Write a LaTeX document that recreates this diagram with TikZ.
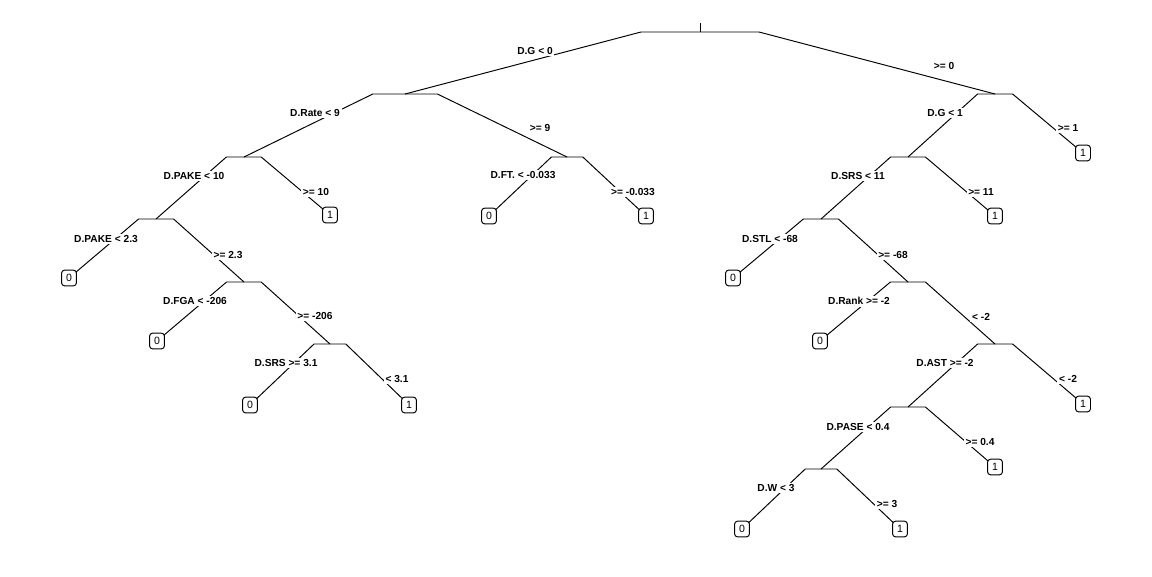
\documentclass[tikz,border=0pt]{standalone}
\usepackage{fontspec}
\setmainfont{Liberation Sans}
\usepackage{tikz}
\usetikzlibrary{calc}
\tikzset{
    branch/.style={
        line width=0.55pt, color=black, line join=miter
    },
    splitlab/.style={
        fill=white, inner sep=1pt, text=black,
        font=\fontsize{5.8}{7}\selectfont\bfseries
    },
    leafbox/.style={
        rectangle, rounded corners=1.8pt, draw=black, fill=white,
        minimum width=8.5pt, minimum height=9pt, inner sep=0pt,
        font=\fontsize{6}{7}\selectfont, line width=0.55pt
    },
}
\newcommand{\twig}[2]{%
    \draw[branch] let \p1=(#1), \p2=(#2) in (\p1) -- ({\x1+0.2*(\x2-\x1)},\y1) -- (\p2);}

\begin{document}
\begin{tikzpicture}[x=0.02cm, y=-0.02cm]
    \useasboundingbox (0,0) rectangle (1152,576);

    % split points
    \coordinate (stem) at (700,23);
    \coordinate (root) at (700,32);
    \coordinate (nA) at (405,94);
    \coordinate (nB) at (244,157);
    \coordinate (nC) at (156,219);
    \coordinate (nD) at (244,282);
    \coordinate (nE) at (330,344);
    \coordinate (nF) at (567,157);
    \coordinate (nG) at (995,94);
    \coordinate (nH) at (908,157);
    \coordinate (nI) at (821,219);
    \coordinate (nJ) at (908,282);
    \coordinate (nK) at (995,344);
    \coordinate (nL) at (908,407);
    \coordinate (nM) at (821,469);

    % leaf points
    \coordinate (p1) at (69,278);
    \coordinate (p2) at (157,341);
    \coordinate (p3) at (250,405);
    \coordinate (p4) at (409,405);
    \coordinate (p5) at (330,215);
    \coordinate (p6) at (489,216);
    \coordinate (p7) at (646,216);
    \coordinate (p8) at (733,278);
    \coordinate (p9) at (820,341);
    \coordinate (p10) at (742,529);
    \coordinate (p11) at (900,529);
    \coordinate (p12) at (995,467);
    \coordinate (p13) at (1083,404);
    \coordinate (p14) at (995,216);
    \coordinate (p15) at (1083,153);

    % branches
    \draw[branch] (stem) -- (root);
    \twig{root}{nA} \twig{root}{nG}
    \twig{nA}{nB} \twig{nA}{nF}
    \twig{nB}{nC} \twig{nB}{p5}
    \twig{nC}{p1} \twig{nC}{nD}
    \twig{nD}{p2} \twig{nD}{nE}
    \twig{nE}{p3} \twig{nE}{p4}
    \twig{nF}{p6} \twig{nF}{p7}
    \twig{nG}{nH} \twig{nG}{p15}
    \twig{nH}{nI} \twig{nH}{p14}
    \twig{nI}{p8} \twig{nI}{nJ}
    \twig{nJ}{p9} \twig{nJ}{nK}
    \twig{nK}{nL} \twig{nK}{p13}
    \twig{nL}{nM} \twig{nL}{p12}
    \twig{nM}{p10} \twig{nM}{p11}

    % split labels
    \node[splitlab] (sRootL) at (535,51) {D.G < 0};
    \node[splitlab] (sRootR) at (944,66) {>= 0};
    \node[splitlab] (sAL) at (315,113) {D.Rate < 9};
    \node[splitlab] (sAR) at (540,128) {>= 9};
    \node[splitlab] (sBL) at (194,176) {D.PAKE < 10};
    \node[splitlab] (sBR) at (316,192) {>= 10};
    \node[splitlab] (sCL) at (106,239) {D.PAKE < 2.3};
    \node[splitlab] (sCR) at (228,255) {>= 2.3};
    \node[splitlab] (sDL) at (195,301) {D.FGA < -206};
    \node[splitlab] (sDR) at (315,316) {>= -206};
    \node[splitlab] (sEL) at (286,363) {D.SRS >= 3.1};
    \node[splitlab] (sER) at (397,379) {< 3.1};
    \node[splitlab] (sFL) at (523,175) {D.FT. < -0.033};
    \node[splitlab] (sFR) at (633,192) {>= -0.033};
    \node[splitlab] (sGL) at (945,113) {D.G < 1};
    \node[splitlab] (sGR) at (1068,128) {>= 1};
    \node[splitlab] (sHL) at (858,176) {D.SRS < 11};
    \node[splitlab] (sHR) at (981,192) {>= 11};
    \node[splitlab] (sIL) at (770,239) {D.STL < -68};
    \node[splitlab] (sIR) at (893,255) {>= -68};
    \node[splitlab] (sJL) at (859,301) {D.Rank >= -2};
    \node[splitlab] (sJR) at (981,317) {< -2};
    \node[splitlab] (sKL) at (945,363) {D.AST >= -2};
    \node[splitlab] (sKR) at (1068,379) {< -2};
    \node[splitlab] (sLL) at (858,427) {D.PASE < 0.4};
    \node[splitlab] (sLR) at (980,442) {>= 0.4};
    \node[splitlab] (sML) at (776,488) {D.W < 3};
    \node[splitlab] (sMR) at (887,504) {>= 3};

    % leaves
    \node[leafbox] (leaf1) at (p1) {0};
    \node[leafbox] (leaf2) at (p2) {0};
    \node[leafbox] (leaf3) at (p3) {0};
    \node[leafbox] (leaf4) at (p4) {1};
    \node[leafbox] (leaf5) at (p5) {1};
    \node[leafbox] (leaf6) at (p6) {0};
    \node[leafbox] (leaf7) at (p7) {1};
    \node[leafbox] (leaf8) at (p8) {0};
    \node[leafbox] (leaf9) at (p9) {0};
    \node[leafbox] (leaf10) at (p10) {0};
    \node[leafbox] (leaf11) at (p11) {1};
    \node[leafbox] (leaf12) at (p12) {1};
    \node[leafbox] (leaf13) at (p13) {1};
    \node[leafbox] (leaf14) at (p14) {1};
    \node[leafbox] (leaf15) at (p15) {1};
\end{tikzpicture}
\end{document}
